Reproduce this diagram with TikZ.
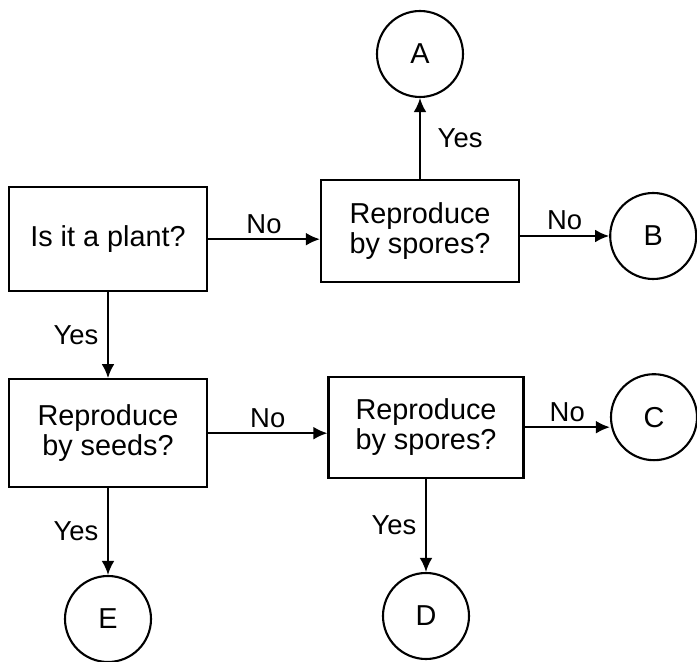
\documentclass[tikz,border=0pt]{standalone}
\usepackage{fontspec}
\setmainfont{Liberation Sans}
\usetikzlibrary{arrows.meta}

\begin{document}
\begin{tikzpicture}[line width=1.5pt,>={Latex[length=3.5mm,width=3.2mm]},
  font=\fontsize{20.5}{21}\selectfont,
  caja/.style={draw,align=center,minimum width=4.95cm,minimum height=2.6cm},
  circulo/.style={draw,circle,minimum size=2.15cm,inner sep=0pt},
  etiq/.style={font=\fontsize{19.5}{21}\selectfont}]
  \useasboundingbox (0,0) rectangle (17.425,-16.55);
  % preguntas
  \node[caja] (plant) at (2.7,-5.98) {Is it a plant?};
  \node[caja,minimum height=2.55cm] (spores1) at (10.5,-5.78) {Reproduce\\by spores?};
  \node[caja,minimum height=2.7cm] (seeds) at (2.7,-10.83) {Reproduce\\by seeds?};
  \node[caja,minimum width=4.875cm,minimum height=2.53cm] (spores2) at (10.65,-10.68) {Reproduce\\by spores?};
  % respuestas
  \node[circulo] (A) at (10.5,-1.35) {A};
  \node[circulo] (B) at (16.33,-5.9) {B};
  \node[circulo] (C) at (16.35,-10.43) {C};
  \node[circulo] (D) at (10.65,-15.4) {D};
  \node[circulo] (E) at (2.7,-15.475) {E};
  % flechas (No)
  \draw[->] (plant.east) -- node[above,etiq]{No} (plant.east -| spores1.west);
  \draw[->] (spores1.east |- B) -- node[above,etiq]{No} (B);
  \draw[->] (seeds.east) -- node[above,etiq]{No} (seeds.east -| spores2.west);
  \draw[->] (spores2.east) -- node[above,etiq]{No} (spores2.east -| C.west);
  % flechas (Yes)
  \draw[->] (spores1) -- node[right=3mm,etiq]{Yes} (A);
  \draw[->] (plant) -- node[left=1mm,etiq]{Yes} (seeds);
  \draw[->] (seeds) -- node[left=1mm,etiq]{Yes} (E);
  \draw[->] (spores2) -- node[left=1mm,etiq]{Yes} (D);
\end{tikzpicture}
\end{document}
